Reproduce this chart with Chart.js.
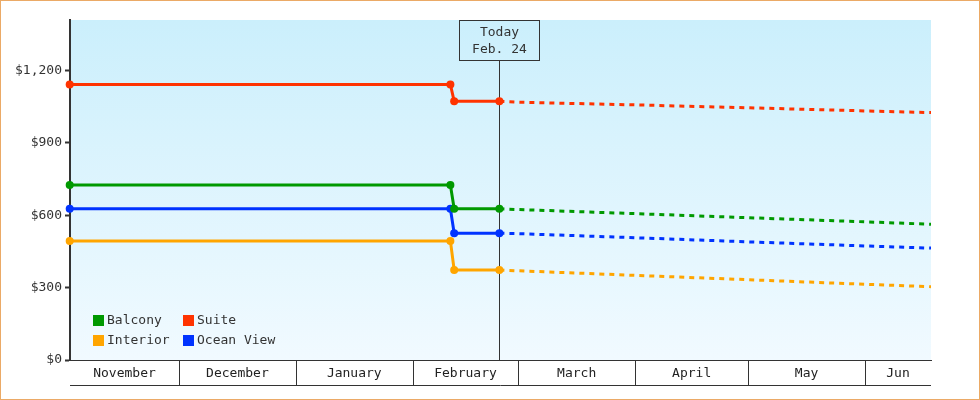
<!DOCTYPE html>
<html><head><meta charset="utf-8">
<script src="https://cdn.jsdelivr.net/npm/chart.js@4.4.0/dist/chart.umd.min.js"></script>
<style>
html,body{margin:0;padding:0;background:#fff;}
#wrap{width:980px;height:400px;box-sizing:border-box;border:1px solid #EBAA66;}
canvas{display:block;}
</style></head><body>
<div id="wrap"><canvas id="c" width="978" height="398"></canvas></div>
<script>
// ---- data ----
const seriesNames = ['Balcony', 'Suite', 'Interior', 'Ocean View'];
const seriesColors = ['#009900', '#FF3300', '#FFA500', '#0033FF'];
const pointDates = ['2014-11-02', '2015-02-11', '2015-02-12', '2015-02-24', '2015-03-01', '2015-04-01', '2015-05-01', '2015-06-01', '2015-06-18T12:00'];
const balcony   = [726, 726, 627, 627, 624, 607, 590, 573, 563];
const suite     = [1143, 1143, 1073, 1073, 1069, 1058, 1046, 1033, 1026];
const interior  = [494, 494, 373, 373, 370, 351, 333, 314, 304];
const oceanView = [627, 627, 526, 526, 524, 507, 490, 473, 464];
const seriesValues = [balcony, suite, interior, oceanView];
const todayDate = '2015-02-24';
const todayLabel = ['Today', 'Feb. 24'];
const monthLabels = ['November', 'December', 'January', 'February', 'March', 'April', 'May', 'Jun'];
const monthStarts = ['2014-11-01', '2014-12-01', '2015-01-01', '2015-02-01', '2015-03-01', '2015-04-01', '2015-05-01', '2015-06-01', '2015-07-01'];
const axisStart = '2014-11-02T02:00';
const axisEnd = '2015-06-18T12:00';
const yTicks = [0, 300, 600, 900, 1200];
const yMax = 1410;

// ---- helpers ----
const epoch = Date.parse('2014-11-01T00:00:00Z');
function day(s) {
  const iso = s.length === 10 ? s + 'T00:00:00Z' : s + ':00Z';
  return (Date.parse(iso) - epoch) / 86400000;
}
const xMin = day(axisStart), xMax = day(axisEnd), today = day(todayDate);
const mStarts = monthStarts.map(day);
const mMids = monthLabels.map((_, i) => (Math.max(mStarts[i], xMin) + Math.min(mStarts[i + 1], xMax)) / 2);
const FONT = "'DejaVu Sans Mono', 'Liberation Mono', monospace";
const INK = '#333333';

const bgPlugin = {
  id: 'bg',
  beforeDraw(chart) {
    const { ctx, chartArea: a } = chart;
    const g = ctx.createLinearGradient(0, a.top, 0, a.bottom);
    g.addColorStop(0, '#cbeffc');
    g.addColorStop(1, '#f1faff');
    ctx.save();
    ctx.fillStyle = g;
    ctx.fillRect(a.left, a.top, a.right - a.left, a.bottom - a.top);
    ctx.restore();
  }
};

const todayPlugin = {
  id: 'today',
  beforeDatasetsDraw(chart) {
    const { ctx, chartArea: a } = chart;
    const x = Math.round(chart.scales.x.getPixelForValue(today)) + 0.5;
    const bw = 80, bh = 40;
    const top = a.top + 0.5;
    ctx.save();
    ctx.strokeStyle = INK;
    ctx.lineWidth = 1;
    ctx.beginPath();
    ctx.moveTo(x, top + bh);
    ctx.lineTo(x, a.bottom);
    ctx.stroke();
    ctx.strokeRect(x - bw / 2, top, bw, bh);
    ctx.fillStyle = INK;
    ctx.font = '13px ' + FONT;
    ctx.textAlign = 'center';
    ctx.textBaseline = 'middle';
    ctx.fillText(todayLabel[0], x, a.top + 13);
    ctx.fillText(todayLabel[1], x, a.top + 30);
    ctx.restore();
  }
};

const bandPlugin = {
  id: 'band',
  afterDraw(chart) {
    const { ctx, chartArea: a } = chart;
    const xs = chart.scales.x;
    const yb = a.bottom + 25.5;
    ctx.save();
    ctx.strokeStyle = INK;
    ctx.lineWidth = 1;
    ctx.beginPath();
    mStarts.forEach(v => {
      if (v > xMin && v < xMax) {
        const px = Math.round(xs.getPixelForValue(v)) + 0.5;
        ctx.moveTo(px, a.bottom);
        ctx.lineTo(px, yb);
      }
    });
    ctx.moveTo(a.left, yb);
    ctx.lineTo(a.right, yb);
    ctx.stroke();
    ctx.restore();
  }
};

const legendPlugin = {
  id: 'legendBox',
  afterDatasetsDraw(chart) {
    const { ctx, chartArea: a } = chart;
    ctx.save();
    ctx.font = '13px ' + FONT;
    ctx.textBaseline = 'middle';
    ctx.textAlign = 'left';
    chart.data.datasets.forEach((ds, i) => {
      const col = i % 2, row = Math.floor(i / 2);
      const x = a.left + 23 + col * 90;
      const cy = a.bottom - 40 + row * 20;
      ctx.fillStyle = ds.borderColor;
      ctx.fillRect(x, cy - 5, 11, 11);
      ctx.fillStyle = INK;
      ctx.fillText(ds.label, x + 14, cy + 1);
    });
    ctx.restore();
  }
};

new Chart(document.getElementById('c'), {
  type: 'line',
  data: {
    datasets: seriesNames.map((n, i) => ({
      label: n,
      data: pointDates.map((d, j) => ({ x: day(d), y: seriesValues[i][j] })),
      borderColor: seriesColors[i],
      backgroundColor: seriesColors[i],
      borderWidth: 3,
      tension: 0,
      clip: false,
      pointRadius: ctx => (ctx.parsed && ctx.parsed.x <= today + 0.01) ? 4 : 0,
      pointHoverRadius: 0,
      pointBorderWidth: 0,
      segment: {
        borderDash: ctx => ctx.p0.parsed.x >= today - 0.01 ? [5, 5] : undefined
      }
    }))
  },
  options: {
    responsive: false,
    animation: false,
    events: [],
    layout: { padding: { top: 19, right: 48, left: 0, bottom: 0 } },
    plugins: { legend: { display: false }, tooltip: { enabled: false } },
    scales: {
      x: {
        type: 'linear',
        min: xMin,
        max: xMax,
        afterBuildTicks: s => { s.ticks = mMids.map(v => ({ value: v })); },
        afterFit: s => { s.height = 39; },
        ticks: {
          autoSkip: false, maxRotation: 0, padding: 6,
          callback: (v, i) => monthLabels[i],
          font: { family: FONT, size: 13 }, color: '#222'
        },
        grid: { display: false, drawTicks: false },
        border: { display: true, color: INK, width: 1 }
      },
      y: {
        min: 0,
        max: yMax,
        afterBuildTicks: s => { s.ticks = yTicks.map(v => ({ value: v })); },
        afterFit: s => { s.width = 69; },
        ticks: {
          padding: 3,
          callback: v => '$' + v.toLocaleString('en-US'),
          font: { family: FONT, size: 13 }, color: INK
        },
        grid: { drawOnChartArea: false, tickLength: 5, tickWidth: 2, tickColor: INK, color: INK },
        border: { color: INK, width: 2 }
      }
    }
  },
  plugins: [bgPlugin, todayPlugin, bandPlugin, legendPlugin]
});
</script>
</body></html>
